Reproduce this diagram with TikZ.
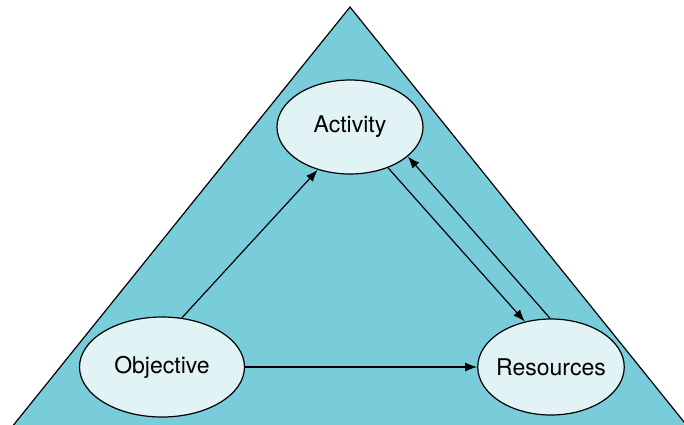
\documentclass[tikz,border=0pt]{standalone}
\usepackage{fontspec}
\setmainfont{TeX Gyre Heros}
\usetikzlibrary{shapes.geometric,arrows.meta}
\definecolor{trifill}{RGB}{121,205,219}
\definecolor{ovalfill}{RGB}{226,243,246}
\begin{document}
\begin{tikzpicture}[x=0.5pt, y=-0.5pt, line width=0.6pt,
    oval/.style={ellipse, draw, fill=ovalfill, inner sep=-1.5pt,
      font=\fontsize{11.5}{13}\selectfont},
    arr/.style={-{Latex[length=6pt,width=4.5pt]}}]
  \useasboundingbox (0,0) rectangle (684,424);
  \clip (0,0) rectangle (684,424);
  % background triangle
  \draw[fill=trifill] (350,7) -- (690.5,430) -- (9.5,430) -- cycle;
  \node(act) [oval, minimum width=73pt, minimum height=47pt] at (350,127) {Activity};
  \node(obj) [oval, minimum width=82.5pt, minimum height=50pt] at (162,367) {Objective};
  \node(res) [oval, minimum width=71.5pt, minimum height=48pt] at (551,367) {Resources};
  \draw[arr](obj.68) to (act.233);
  \draw[arr](obj) to (res);
  \draw[arr](act.-47) to (res.120);
  \draw[arr](res.91) to (act.-27);
\end{tikzpicture}
\end{document}
